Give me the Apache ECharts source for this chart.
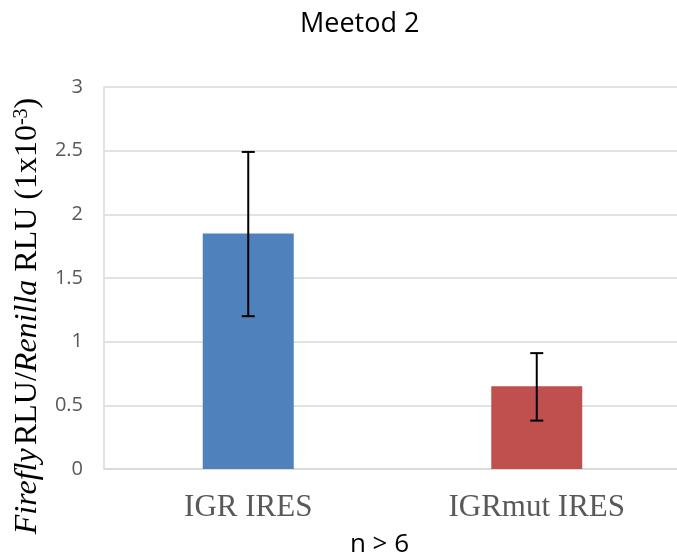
<!DOCTYPE html>
<html>
<head>
<meta charset="utf-8">
<script src="https://cdn.jsdelivr.net/npm/echarts@6/dist/echarts.min.js"></script>
<style>
  html, body { margin: 0; padding: 0; background: #fff; }
  #chart { width: 677px; height: 557px; }
</style>
</head>
<body>
<div id="chart"></div>
<script>
// data
const categories = ['IGR IRES', 'IGRmut IRES'];
const means = [1.85, 0.65];
const errLow = [1.2, 0.38];
const errHigh = [2.49, 0.91];
const barColors = ['#4F81BD', '#C0504D'];
const yTicks = [0, 0.5, 1, 1.5, 2, 2.5, 3];

let myChart = echarts.init(document.getElementById('chart'));

myChart.setOption({
  animation: false,
  title: {
    text: 'Meetod 2',
    left: 295,
    top: 6,
    textStyle: { fontFamily: 'Open Sans', fontSize: 27, fontWeight: 'normal', color: '#000' }
  },
  grid: { left: 104, right: -4, top: 87, bottom: 88, outerBoundsMode: 'none' },
  xAxis: {
    type: 'category',
    data: categories,
    axisTick: { show: false },
    axisLine: { lineStyle: { color: '#d9d9d9', width: 1.5 } },
    axisLabel: {
      margin: 23,
      fontFamily: 'Liberation Serif',
      fontSize: 31,
      color: '#595959'
    },
    name: 'n > 6',
    nameLocation: 'middle',
    nameGap: 63,
    nameTextStyle: { fontFamily: 'Open Sans', fontSize: 26, color: '#000', padding: [0, 26, 0, 0] }
  },
  yAxis: {
    type: 'value',
    min: yTicks[0],
    max: yTicks[yTicks.length - 1],
    interval: 0.5,
    axisLine: { show: true, lineStyle: { color: '#d9d9d9', width: 1.5 } },
    axisTick: { show: false },
    splitLine: { lineStyle: { color: '#d9d9d9', width: 1.5 } },
    axisLabel: { fontFamily: 'Open Sans', fontSize: 20, color: '#595959', margin: 21 },
    name: '{i|Firefly} {n|RLU/}{i|Renilla}{n| RLU (1x10}{s|-3}{n|)}',
    nameLocation: 'middle',
    nameRotate: 90,
    nameGap: 60,
    nameTextStyle: {
      padding: [0, 76, 0, 0],
      rich: {
        i: { fontFamily: 'Liberation Serif', fontStyle: 'italic', fontSize: 32, color: '#000' },
        n: { fontFamily: 'Liberation Serif', fontSize: 32, color: '#000' },
        s: { fontFamily: 'Liberation Serif', fontSize: 20, color: '#000', verticalAlign: 'top', padding: [0, 0, 12, 0] }
      }
    }
  },
  series: [
    {
      type: 'bar',
      barWidth: 91,
      data: means.map((v, k) => ({ value: v, itemStyle: { color: barColors[k] } }))
    },
    {
      type: 'custom',
      z: 10,
      data: categories.map((c, k) => [k, errLow[k], errHigh[k]]),
      renderItem: function (params, api) {
        let lo = api.coord([api.value(0), api.value(1)]);
        let hi = api.coord([api.value(0), api.value(2)]);
        let x = lo[0];
        let w = 6.5;
        let style = { stroke: '#000', lineWidth: 2 };
        return {
          type: 'group',
          children: [
            { type: 'line', shape: { x1: x, y1: lo[1], x2: x, y2: hi[1] }, style: style },
            { type: 'line', shape: { x1: x - w, y1: lo[1], x2: x + w, y2: lo[1] }, style: style },
            { type: 'line', shape: { x1: x - w, y1: hi[1], x2: x + w, y2: hi[1] }, style: style }
          ]
        };
      }
    }
  ]
});
</script>
</body>
</html>
